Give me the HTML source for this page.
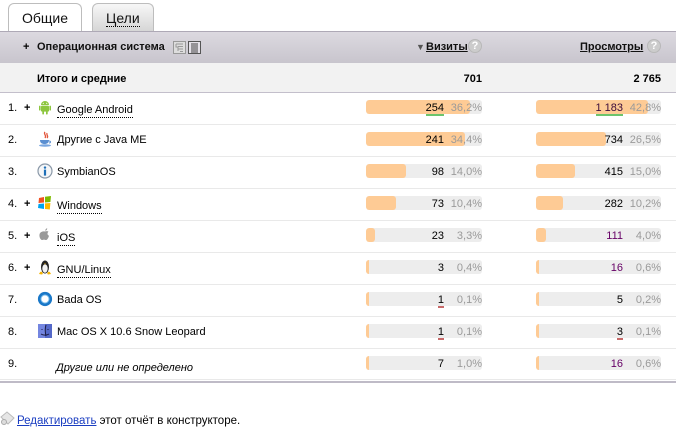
<!DOCTYPE html>
<html><head><meta charset="utf-8"><style>
*{margin:0;padding:0;box-sizing:border-box}
body{width:676px;height:427px;background:#fff;position:relative;overflow:hidden;font-family:"Liberation Sans",Arial,sans-serif;font-size:11px;color:#000}
.a{position:absolute;white-space:nowrap}
.t{line-height:13px;height:13px}
.b{font-weight:bold}
.track{position:absolute;height:14px;background:#ededed;border-radius:3px;overflow:hidden}
.fill{position:absolute;left:0;top:0;height:14px;background:#fecb95;border-radius:3px}
.num{position:absolute;text-align:right;line-height:13px;height:13px}
.pct{position:absolute;text-align:right;line-height:13px;height:13px;color:#9a9a9a}
.sep{position:absolute;left:0;width:676px;height:1px;background:#e9e9e9}
.lnk{border-bottom:1px dotted #000;padding-bottom:1px}
.ul{position:absolute;height:2px}
</style></head><body>

<!-- tabs -->
<div class="a" style="left:8px;top:3px;width:74px;height:29px;background:#fff;border:1px solid #bdbdbd;border-bottom:none;border-radius:6px 6px 0 0"></div>
<div class="a" style="left:22px;top:10px;font-size:14px;line-height:17px;color:#111">Общие</div>
<div class="a" style="left:92px;top:3px;width:62px;height:28px;background:linear-gradient(#f7f7f7,#d6d6d6);border:1px solid #bdbdbd;border-bottom:none;border-radius:6px 6px 0 0"></div>
<div class="a" style="left:106px;top:10px;font-size:14px;line-height:16px;color:#111;border-bottom:1px dotted #000">Цели</div>

<!-- header band -->
<div class="a" style="left:0;top:31px;width:676px;height:32px;background:linear-gradient(#dcd9e0,#c8c5cd);border-top:1px solid #aea9b6"></div>
<div class="a t b" style="left:23px;top:41px">+</div>
<div class="a t b" style="left:37px;top:41px;color:#111">Операционная система</div>
<svg class="a" style="left:173px;top:41px" width="13" height="13" viewBox="0 0 13 13"><rect x="0.5" y="0.5" width="12" height="12" fill="#ddd" stroke="#999"/><path d="M3 3h7M5 5.5h5M5 8h5M7 10.5h3M3 3v3l2 0M5 6v4" stroke="#999" fill="none"/></svg>
<svg class="a" style="left:188px;top:41px" width="13" height="13" viewBox="0 0 13 13"><rect x="0.5" y="0.5" width="12" height="12" fill="#e4e1e8" stroke="#555"/><path d="M3 3h7M3 5h7M3 7h7M3 9h7M3 11h7" stroke="#444" fill="none"/></svg>
<div class="a" style="left:416px;top:42px;font-size:9px;line-height:11px;color:#555">▼</div>
<div class="a t b" style="left:426px;top:41px;text-decoration:underline;color:#111">Визиты</div>
<div class="a" style="left:468px;top:39px;width:14px;height:14px;border-radius:7px;background:#ccc;border:1px solid #b8b8b8;color:#fff;font-weight:bold;font-size:11px;line-height:12px;text-align:center">?</div>
<div class="a t b" style="left:580px;top:41px;text-decoration:underline;color:#111">Просмотры</div>
<div class="a" style="left:647px;top:39px;width:14px;height:14px;border-radius:7px;background:#ccc;border:1px solid #b8b8b8;color:#fff;font-weight:bold;font-size:11px;line-height:12px;text-align:center">?</div>

<!-- totals -->
<div class="a" style="left:0;top:63px;width:676px;height:30px;background:#f2f2f2;border-bottom:1px solid #c3bfcb"></div>
<div class="a t b" style="left:37px;top:73px">Итого и средние</div>
<div class="num b" style="left:402px;width:80px;top:73px">701</div>
<div class="num b" style="left:581px;width:80px;top:73px">2 765</div>

<!-- separators -->
<div class="sep" style="top:124px"></div>
<div class="sep" style="top:156px"></div>
<div class="sep" style="top:188px"></div>
<div class="sep" style="top:220px"></div>
<div class="sep" style="top:252px"></div>
<div class="sep" style="top:284px"></div>
<div class="sep" style="top:316px"></div>
<div class="sep" style="top:348px"></div>
<div class="sep" style="top:379px"></div>
<div class="a" style="left:0;top:381px;width:676px;height:2px;background:#bfbbc7"></div>

<!-- numbers and plus -->
<div class="a t" style="left:8px;top:102px">1.</div><div class="a t b" style="left:24px;top:102px">+</div>
<div class="a t" style="left:8px;top:134px">2.</div>
<div class="a t" style="left:8px;top:166px">3.</div>
<div class="a t" style="left:8px;top:198px">4.</div><div class="a t b" style="left:24px;top:198px">+</div>
<div class="a t" style="left:8px;top:230px">5.</div><div class="a t b" style="left:24px;top:230px">+</div>
<div class="a t" style="left:8px;top:262px">6.</div><div class="a t b" style="left:24px;top:262px">+</div>
<div class="a t" style="left:8px;top:294px">7.</div>
<div class="a t" style="left:8px;top:326px">8.</div>
<div class="a t" style="left:8px;top:358px">9.</div>

<!-- icons -->
<svg class="a" style="left:37px;top:99px" width="16" height="16" viewBox="0 0 16 16"><path d="M4 6a4 4 0 0 1 8 0z" fill="#8dc63f"/><rect x="4" y="6.6" width="8" height="6" rx="1" fill="#8dc63f"/><rect x="2" y="6.6" width="1.6" height="5" rx=".8" fill="#8dc63f"/><rect x="12.4" y="6.6" width="1.6" height="5" rx=".8" fill="#8dc63f"/><rect x="5.3" y="12" width="1.7" height="3.5" rx=".8" fill="#8dc63f"/><rect x="9" y="12" width="1.7" height="3.5" rx=".8" fill="#8dc63f"/><circle cx="6.3" cy="4.3" r=".6" fill="#fff"/><circle cx="9.7" cy="4.3" r=".6" fill="#fff"/></svg>
<svg class="a" style="left:37px;top:131px" width="16" height="16" viewBox="0 0 16 16"><path d="M8 1c-2 2 2 3 0 6M10 2c-1 2 2 3 0 5" stroke="#e2553a" stroke-width="1.3" fill="none"/><path d="M3 9h9c0 3-2 4-4.5 4S3 12 3 9z" fill="#5b8fd1"/><ellipse cx="8" cy="14.5" rx="6" ry="1.2" fill="#7aa7e0"/><path d="M12 10c2 0 2 2 0 2" stroke="#5b8fd1" fill="none"/></svg>
<svg class="a" style="left:37px;top:163px" width="16" height="16" viewBox="0 0 16 16"><circle cx="8" cy="8" r="7" fill="#f4f6f8" stroke="#8a98a8" stroke-width="1.2"/><circle cx="8" cy="4.6" r="1.2" fill="#1d6fb8"/><rect x="6.9" y="6.6" width="2.2" height="6" fill="#1d6fb8"/></svg>
<svg class="a" style="left:37px;top:195px" width="16" height="16" viewBox="0 0 16 16"><path d="M2 3l5-1v5.5l-5.5.5z" fill="#f25022"/><path d="M8 1.8l6-.8-.6 6-5.4.5z" fill="#7fba00"/><path d="M1.5 9l5.5-.5V14l-6-1z" fill="#00a4ef"/><path d="M8 8.4l5.4-.4-.6 6.5L8 14z" fill="#ffb900"/></svg>
<svg class="a" style="left:37px;top:227px" width="16" height="16" viewBox="0 0 16 16"><path d="M8 4.5c1-.5 2.5-.7 3.5.2-1.5 1-1.3 3.3.5 4-.5 2-1.8 4.3-3 4.3-.7 0-1-.4-2-.4s-1.3.4-2 .4C3.7 13 2 10 2.5 7.5 3 5 5.5 4 8 4.5z" fill="#9a9a9a"/><path d="M8.2 3.8c0-1.3.9-2.3 2-2.5.1 1.3-.9 2.4-2 2.5z" fill="#9a9a9a"/></svg>
<svg class="a" style="left:37px;top:259px" width="16" height="16" viewBox="0 0 16 16"><ellipse cx="8" cy="8" rx="4" ry="6.5" fill="#222"/><ellipse cx="8" cy="9.5" rx="2.7" ry="4.3" fill="#f2f2f2"/><path d="M2 15c1-2 2-3 3-2s1 2 0 2.5zM14 15c-1-2-2-3-3-2s-1 2 0 2.5z" fill="#f5b400"/><path d="M7 4.5l1 1 1-1z" fill="#f5b400"/></svg>
<svg class="a" style="left:37px;top:291px" width="16" height="16" viewBox="0 0 16 16"><circle cx="8" cy="8" r="5.6" fill="none" stroke="#1a78c8" stroke-width="3"/><circle cx="8" cy="8" r="4" fill="none" stroke="#7fc0ee" stroke-width="1"/></svg>
<svg class="a" style="left:37px;top:323px" width="16" height="16" viewBox="0 0 16 16"><rect x="1" y="1" width="14" height="14" fill="#5468c8"/><rect x="1" y="1" width="7" height="14" fill="#7486e0"/><path d="M9 2c-1 3-1 7 0 11M5 6v1M11 6v1M4 11c2 1.5 6 1.5 8 0" stroke="#1a1a40" fill="none"/></svg>

<!-- names -->
<div class="a t" style="left:57px;top:104px"><span class="lnk">Google Android</span></div>
<div class="a t" style="left:57px;top:134px">Другие с Java ME</div>
<div class="a t" style="left:57px;top:166px">SymbianOS</div>
<div class="a t" style="left:57px;top:200px"><span class="lnk">Windows</span></div>
<div class="a t" style="left:57px;top:232px"><span class="lnk">iOS</span></div>
<div class="a t" style="left:57px;top:264px"><span class="lnk">GNU/Linux</span></div>
<div class="a t" style="left:57px;top:294px">Bada OS</div>
<div class="a t" style="left:57px;top:326px">Mac OS X 10.6 Snow Leopard</div>
<div class="a t" style="left:56px;top:362px;font-style:italic">Другие или не определено</div>

<!-- visits bars -->
<div class="track" style="left:366px;top:100px;width:116px"><div class="fill" style="width:104px"></div></div>
<div class="track" style="left:366px;top:132px;width:116px"><div class="fill" style="width:99px"></div></div>
<div class="track" style="left:366px;top:164px;width:116px"><div class="fill" style="width:40px"></div></div>
<div class="track" style="left:366px;top:196px;width:116px"><div class="fill" style="width:30px"></div></div>
<div class="track" style="left:366px;top:228px;width:116px"><div class="fill" style="width:9px"></div></div>
<div class="track" style="left:366px;top:260px;width:116px"><div class="fill" style="width:3px;border-radius:0"></div></div>
<div class="track" style="left:366px;top:292px;width:116px"><div class="fill" style="width:3px;border-radius:0"></div></div>
<div class="track" style="left:366px;top:324px;width:116px"><div class="fill" style="width:3px;border-radius:0"></div></div>
<div class="track" style="left:366px;top:356px;width:116px"><div class="fill" style="width:3px;border-radius:0"></div></div>

<!-- views bars -->
<div class="track" style="left:536px;top:100px;width:125px"><div class="fill" style="width:112px"></div></div>
<div class="track" style="left:536px;top:132px;width:125px"><div class="fill" style="width:70px"></div></div>
<div class="track" style="left:536px;top:164px;width:125px"><div class="fill" style="width:39px"></div></div>
<div class="track" style="left:536px;top:196px;width:125px"><div class="fill" style="width:27px"></div></div>
<div class="track" style="left:536px;top:228px;width:125px"><div class="fill" style="width:10px"></div></div>
<div class="track" style="left:536px;top:260px;width:125px"><div class="fill" style="width:3px;border-radius:0"></div></div>
<div class="track" style="left:536px;top:292px;width:125px"><div class="fill" style="width:3px;border-radius:0"></div></div>
<div class="track" style="left:536px;top:324px;width:125px"><div class="fill" style="width:3px;border-radius:0"></div></div>
<div class="track" style="left:536px;top:356px;width:125px"><div class="fill" style="width:3px;border-radius:0"></div></div>

<!-- visits numbers -->
<div class="num" style="left:394px;width:50px;top:102px">254</div><div class="pct" style="left:442px;width:40px;top:102px">36,2%</div>
<div class="num" style="left:394px;width:50px;top:134px">241</div><div class="pct" style="left:442px;width:40px;top:134px">34,4%</div>
<div class="num" style="left:394px;width:50px;top:166px">98</div><div class="pct" style="left:442px;width:40px;top:166px">14,0%</div>
<div class="num" style="left:394px;width:50px;top:198px">73</div><div class="pct" style="left:442px;width:40px;top:198px">10,4%</div>
<div class="num" style="left:394px;width:50px;top:230px">23</div><div class="pct" style="left:442px;width:40px;top:230px">3,3%</div>
<div class="num" style="left:394px;width:50px;top:262px">3</div><div class="pct" style="left:442px;width:40px;top:262px">0,4%</div>
<div class="num" style="left:394px;width:50px;top:294px">1</div><div class="pct" style="left:442px;width:40px;top:294px">0,1%</div>
<div class="num" style="left:394px;width:50px;top:326px">1</div><div class="pct" style="left:442px;width:40px;top:326px">0,1%</div>
<div class="num" style="left:394px;width:50px;top:358px">7</div><div class="pct" style="left:442px;width:40px;top:358px">1,0%</div>

<!-- views numbers -->
<div class="num" style="left:563px;width:60px;top:102px;color:#3a0a3a">1 183</div><div class="pct" style="left:621px;width:40px;top:102px">42,8%</div>
<div class="num" style="left:563px;width:60px;top:134px">734</div><div class="pct" style="left:621px;width:40px;top:134px">26,5%</div>
<div class="num" style="left:563px;width:60px;top:166px">415</div><div class="pct" style="left:621px;width:40px;top:166px">15,0%</div>
<div class="num" style="left:563px;width:60px;top:198px">282</div><div class="pct" style="left:621px;width:40px;top:198px">10,2%</div>
<div class="num" style="left:563px;width:60px;top:230px;color:#660066">111</div><div class="pct" style="left:621px;width:40px;top:230px">4,0%</div>
<div class="num" style="left:563px;width:60px;top:262px;color:#660066">16</div><div class="pct" style="left:621px;width:40px;top:262px">0,6%</div>
<div class="num" style="left:563px;width:60px;top:294px">5</div><div class="pct" style="left:621px;width:40px;top:294px">0,2%</div>
<div class="num" style="left:563px;width:60px;top:326px">3</div><div class="pct" style="left:621px;width:40px;top:326px">0,1%</div>
<div class="num" style="left:563px;width:60px;top:358px;color:#660066">16</div><div class="pct" style="left:621px;width:40px;top:358px">0,6%</div>

<!-- underlines -->
<div class="ul" style="left:426px;top:114px;width:18px;background:#6cc46c"></div>
<div class="ul" style="left:596px;top:114px;width:27px;background:#6cc46c"></div>
<div class="ul" style="left:438px;top:306px;width:6px;background:#c86a6a"></div>
<div class="ul" style="left:438px;top:338px;width:6px;background:#c86a6a"></div>
<div class="ul" style="left:617px;top:338px;width:6px;background:#c86a6a"></div>

<!-- footer -->
<svg class="a" style="left:0;top:411px" width="15" height="15" viewBox="0 0 15 15"><path d="M1 6l6-5 7 6-6 6z" fill="#e6e6e6" stroke="#bbb"/><circle cx="4" cy="11" r="2.5" fill="#ddd" stroke="#aaa"/></svg>
<div class="a" style="left:17px;top:415px;font-size:11.5px;line-height:13px"><span style="color:#1a3dc1;text-decoration:underline">Редактировать</span> этот отчёт в конструкторе.</div>

</body></html>
